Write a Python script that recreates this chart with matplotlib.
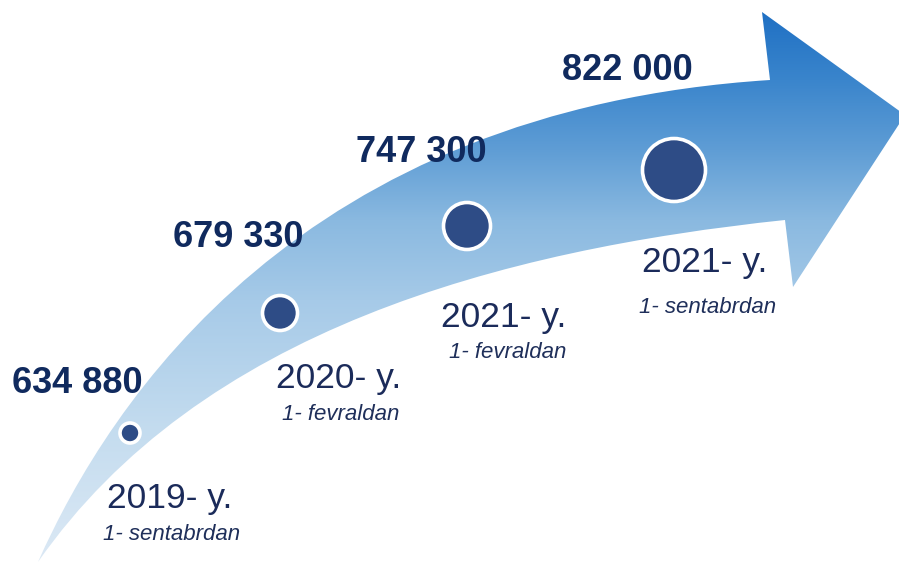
import numpy as np
import matplotlib
matplotlib.use('Agg')
import matplotlib.pyplot as plt
from matplotlib.path import Path
from matplotlib.patches import PathPatch, Circle

# Data
values = [634880, 679330, 747300, 822000]
years = ['2019- y.', '2020- y.', '2021- y.', '2021- y.']
dates = ['1- sentabrdan', '1- fevraldan', '1- fevraldan', '1- sentabrdan']

# Layout (pixel coordinates, y going down)
dot_xy = [(130, 433), (280, 313), (467, 226), (674, 170)]
dot_r = [10, 17.5, 23.5, 31.5]
value_xy = [(77, 393), (238, 247), (421, 162), (627, 80)]
year_xy = [(170, 508), (339, 388), (504, 327), (705, 272)]
date_xy = [(172, 540), (341, 420), (508, 358), (708, 313)]

W, H = 899, 564
fig = plt.figure(figsize=(W / 100, H / 100), dpi=100)
ax = fig.add_axes([0, 0, 1, 1])
ax.set_xlim(0, W)
ax.set_ylim(H, 0)
ax.axis('off')

# Curved arrow outline
verts = [
    (38, 562),
    (110, 400), (300, 110), (770, 80),   # upper edge
    (762, 12),                           # head top
    (905, 115),                          # tip
    (793, 287),                          # head bottom
    (785, 220),                          # lower notch
    (500, 250), (200, 330), (38, 562),   # lower edge
    (38, 562),
]
codes = [Path.MOVETO,
         Path.CURVE4, Path.CURVE4, Path.CURVE4,
         Path.LINETO, Path.LINETO, Path.LINETO, Path.LINETO,
         Path.CURVE4, Path.CURVE4, Path.CURVE4,
         Path.CLOSEPOLY]
arrow = PathPatch(Path(verts, codes), facecolor='none', edgecolor='none')
ax.add_patch(arrow)

# vertical blue gradient clipped to the arrow
stops_y = [0, 80, 150, 220, 300, 430, 564]
stops_c = ['#1a6cc2', '#3a85cc', '#5f9dd5', '#8ab9e0', '#a6cae8', '#c4dcef', '#dce9f5']
rgb = np.array([matplotlib.colors.to_rgb(c) for c in stops_c])
yy = np.arange(H) + 0.5
grad = np.stack([np.interp(yy, stops_y, rgb[:, k]) for k in range(3)], axis=-1)
grad = np.repeat(grad[:, None, :], W, axis=1)
im = ax.imshow(grad, extent=[0, W, H, 0], aspect='auto', interpolation='bilinear')
im.set_clip_path(arrow)

# dots
for (x, y), r in zip(dot_xy, dot_r):
    ax.add_patch(Circle((x, y), r, facecolor='#2e4c86', edgecolor='white', linewidth=2.6, zorder=3))

# labels
font = 'Liberation Sans'
for v, (x, y) in zip(values, value_xy):
    ax.text(x, y, f'{v:,}'.replace(',', ' '), ha='center', va='baseline',
            fontsize=26, fontweight='bold', color='#102a5e', family=font)
for t, (x, y) in zip(years, year_xy):
    ax.text(x, y, t, ha='center', va='baseline', fontsize=25.5, color='#1b2b5a', family=font)
for t, (x, y) in zip(dates, date_xy):
    ax.text(x, y, t, ha='center', va='baseline', fontsize=16, style='italic',
            color='#1f2f5a', family=font)

fig.savefig('out.png', dpi=100)
